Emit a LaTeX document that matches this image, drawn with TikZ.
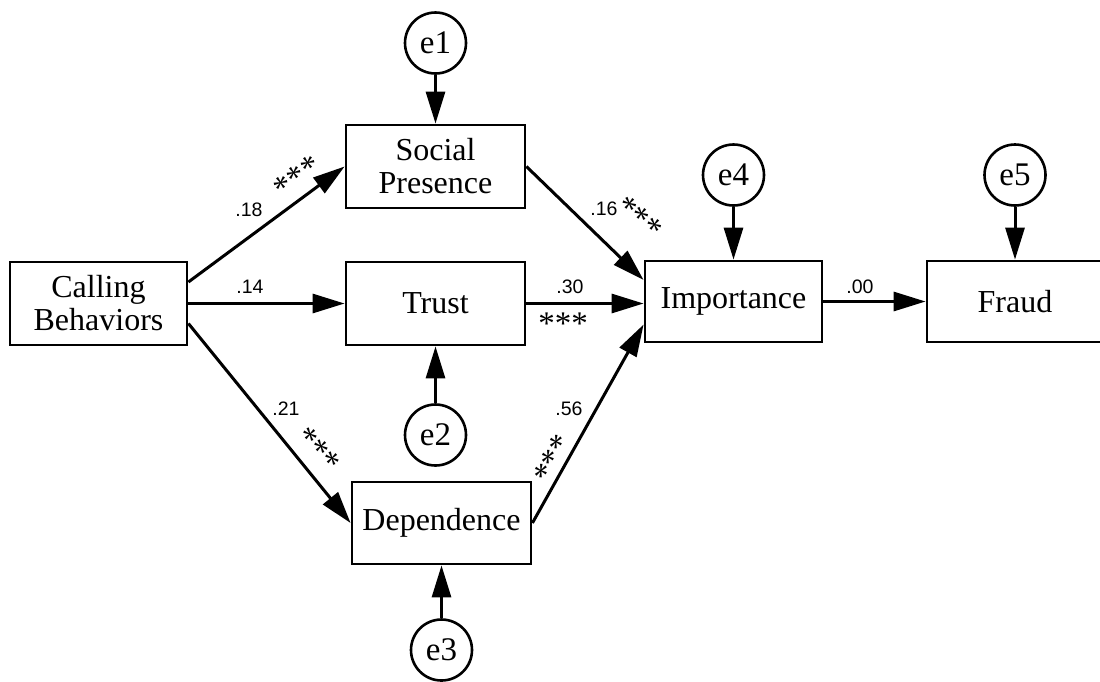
\documentclass[tikz,border=0pt]{standalone}
\usepackage{fontspec}
\setmainfont{Liberation Serif}
\newfontfamily\numfont{Liberation Sans}
\usetikzlibrary{arrows.meta}
\begin{document}
\begin{tikzpicture}[x=1pt,y=-1pt,
 box/.style={draw,line width=2.8pt,rectangle,minimum width=179pt,minimum height=83pt,inner sep=0pt,align=center,font=\fontsize{32}{33}\selectfont},
 err/.style={draw,circle,line width=2.6pt,minimum size=61pt,inner sep=0pt,font=\fontsize{33}{33}\selectfont},
 arr/.style={line width=3pt,-{Triangle[length=32pt,width=19pt]}},
 coef/.style={font=\numfont\fontsize{19.5}{20}\selectfont,inner sep=0pt},
 star/.style={font=\fontsize{33}{33}\selectfont,inner sep=0pt}]
\clip (0,0) rectangle (1100,681);
\fill[white] (0,0) rectangle (1100,681);
% boxes
\node[box,minimum width=177pt] (CB) at (98.5,303.5) {Calling\\Behaviors};
\node[box] (SP) at (435.5,166.5) {Social\\Presence};
\node[box] (TR) at (435.5,303.5) {Trust};
\node[box,minimum height=82pt] (DE) at (441.5,523) {Dependence};
\node[box,minimum width=177pt,minimum height=81pt] (IM) at (733.5,301.5) {Importance};
\node[box,minimum width=176pt,minimum height=81pt] (FR) at (1015,301.5) {Fraud};
% error terms
\node[err] (e1) at (435.5,43) {\raisebox{-4pt}{e1}};
\node[err] (e2) at (435.5,435) {\raisebox{-4pt}{e2}};
\node[err] (e3) at (441.5,650) {\raisebox{-4pt}{e3}};
\node[err] (e4) at (733.5,175) {\raisebox{-4pt}{e4}};
\node[err] (e5) at (1015,175) {\raisebox{-4pt}{e5}};
% paths
\draw[arr] ([yshift=21.5pt]CB.east) -- (SP.west);
\draw[arr] (CB.east) -- (CB.east -| TR.west);
\draw[arr] ([yshift=-20pt]CB.east) -- (DE.west);
\draw[arr] (SP.east) -- ([yshift=21.5pt]IM.west);
\draw[arr] (TR.east) -- (TR.east -| IM.west);
\draw[arr] (DE.east) -- ([yshift=-23pt]IM.west);
\draw[arr] (IM.east) -- (IM.east -| FR.west);
\draw[arr] (e1) -- (SP.north);
\draw[arr] (e2) -- (TR.south);
\draw[arr] (e3) -- (DE.south);
\draw[arr] (e4) -- (IM.north);
\draw[arr] (e5) -- (FR.north);
% coefficients
\node[coef] (c18) at (249,210) {.18};
\node[coef] (c14) at (250,287) {.14};
\node[coef] (c16) at (604,209) {.16};
\node[coef] (c30) at (570,287) {.30};
\node[coef] (c21) at (286,409) {.21};
\node[coef] (c56) at (569,409) {.56};
\node[coef] (c00) at (860,287) {.00};
% significance stars
\node[star,rotate=36] (s18) at (297,177) {***};
\node[star,rotate=-40] (s16) at (639,218) {***};
\node[star] (s30) at (563,324) {***};
\node[star,rotate=-46] (s21) at (318,450) {***};
\node[star,rotate=63] (s56) at (553,459) {***};
\end{tikzpicture}
\end{document}
